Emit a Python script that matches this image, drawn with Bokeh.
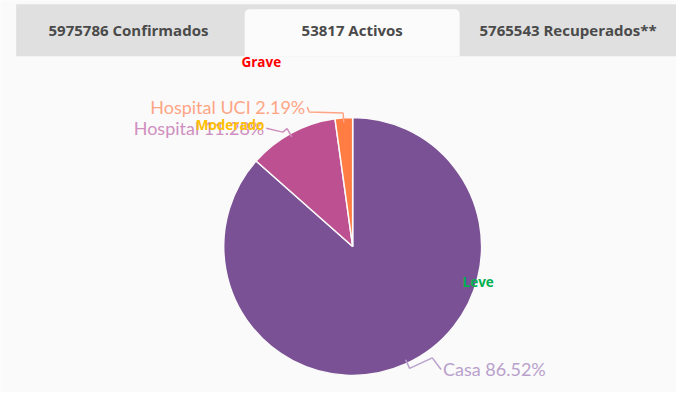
import math
from bokeh.plotting import figure
from bokeh.models import Range1d
from bokeh.core.properties import value
from bokeh.embed import file_html
from bokeh.resources import INLINE

# ---- data ----
tab_labels = ["5975786 Confirmados", "53817 Activos", "5765543 Recuperados**"]
slice_names = ["Casa", "Hospital", "Hospital UCI"]
slice_values = [86.52, 11.28, 2.19]
slice_colors = ["#7a5195", "#bc5090", "#ff7c43"]
label_colors = ["#b9a1cc", "#cf8fbf", "#ffa585"]
severity_labels = ["Grave", "Moderado", "Leve"]
severity_colors = ["#ff0000", "#ffc000", "#00b050"]

W, H = 676, 392
RW, RH = 692, 408
def Y(py):
    return RH - py

p = figure(width=W, height=H, output_backend="svg", toolbar_location=None,
           x_range=Range1d(0, RW), y_range=Range1d(0, RH), min_border=0)
p.axis.visible = False
p.grid.visible = False
p.outline_line_color = None
p.background_fill_color = "#fafafa"
p.border_fill_color = "#fafafa"

# tab bar
p.quad(left=16, right=RW + 5, top=Y(4), bottom=Y(58), fill_color="#e0e0e0", line_color=None)
p.quad(left=250, right=470, top=Y(9), bottom=Y(58), fill_color="#fbfbfb", line_color=None,
       border_radius=(5, 5, 0, 0))
tab_x = [131, 360, 581]
p.text(x=tab_x, y=[Y(31)] * 3, text=tab_labels, text_align="center", text_baseline="middle",
       text_font=value("Open Sans"), text_font_style="bold", text_font_size="15px",
       text_color="#4a4a4a")

# pie
cx, cy, r = 360.5, Y(256), 132
total = sum(slice_values)
starts, ends, mids = [], [], []
acc = 0.0
for v in slice_values:
    a0 = math.pi / 2 - acc / total * 2 * math.pi
    acc += v
    a1 = math.pi / 2 - acc / total * 2 * math.pi
    starts.append(a0); ends.append(a1); mids.append((a0 + a1) / 2)
p.wedge(x=cx, y=cy, radius=r, start_angle=starts, end_angle=ends, direction="clock",
        fill_color=slice_colors, line_color="#fafafa", line_width=1.5)

# labels + leader lines
label_text = [f"{n} {v:.2f}%" for n, v in zip(slice_names, slice_values)]
anchors = [(452, Y(384)), (271, Y(133)), (313, Y(111))]
aligns = ["left", "right", "right"]
bends = [(-10, 12), (18, -4), (3, -5)]
for i in range(3):
    m = mids[i]
    x0, y0 = cx + r * math.cos(m), cy + r * 0.98 * math.sin(m)
    x1, y1 = cx + (r + 10) * math.cos(m), cy + (r + 10) * 0.98 * math.sin(m)
    ax, ay = anchors[i]
    bx, by = ax + bends[i][0], ay + bends[i][1]
    lx = ax - 1 if aligns[i] == "left" else ax + 1
    p.line(x=[x0, x1, bx, lx], y=[y0, y1, by, ay], line_color=label_colors[i], line_width=1.5)
    p.text(x=[ax + (1 if aligns[i] == "left" else -1)], y=[ay], text=[label_text[i]],
           text_align=aligns[i], text_baseline="middle", text_font=value("Lato"),
           text_font_size="18px", text_color=label_colors[i])

# severity annotations
sev_x = [267, 235, 489]
sev_y = [Y(64), Y(130), Y(293)]
p.text(x=sev_x, y=sev_y, text=severity_labels, text_align="center", text_baseline="middle",
       text_font=value("Open Sans"), text_font_style="bold", text_font_size="13.5px",
       text_color=severity_colors)

open("out.html", "w").write(file_html(p, INLINE))
